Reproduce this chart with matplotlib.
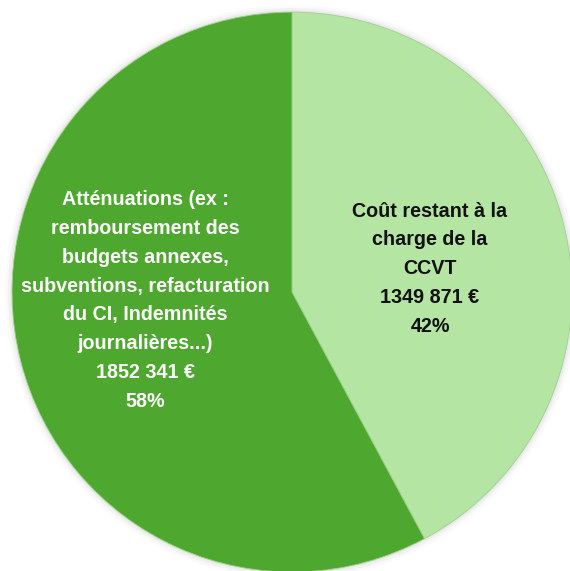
import matplotlib
matplotlib.use("Agg")
import matplotlib.pyplot as plt
from matplotlib.patches import Circle

# Données
labels = ["Coût restant à la\ncharge de la\nCCVT",
          "Atténuations (ex :\nremboursement des\nbudgets annexes,\nsubventions, refacturation\n"
          "du CI, Indemnités\njournalières...)"]
montants = ["1349 871 €", "1852 341 €"]
valeurs = [1349871, 1852341]
couleurs = ["#B4E5A2", "#4EA72E"]
couleurs_texte = ["#111111", "#FFFFFF"]

fig = plt.figure(figsize=(5.70, 5.71), dpi=100)
ax = fig.add_axes([0, 0, 1, 1])

# ombre douce autour du camembert
for r, a in [(1.025, 0.04), (1.015, 0.06), (1.007, 0.08)]:
    ax.add_patch(Circle((0, 0.0), r, color="#808080", alpha=a, lw=0, zorder=0))

ax.pie(valeurs, colors=couleurs, startangle=90, counterclock=False,
       radius=1, wedgeprops=dict(linewidth=0.6, edgecolor="#9fd08a"))

ax.set_xlim(-1.043, 0.993)
ax.set_ylim(-0.996, 1.043)
ax.set_aspect("equal")
ax.axis("off")

total = sum(valeurs)
positions = [(0.493, 0.084), (-0.525, -0.03)]
for lab, m, v, c, (x, y) in zip(labels, montants, valeurs, couleurs_texte, positions):
    pct = round(100 * v / total)
    ax.text(x, y, f"{lab}\n{m}\n{pct}%", ha="center", va="center",
            color=c, fontsize=14.2, fontweight="bold", linespacing=1.65,
            family=["Liberation Sans", "DejaVu Sans"])

fig.savefig("out.png", dpi=100)
